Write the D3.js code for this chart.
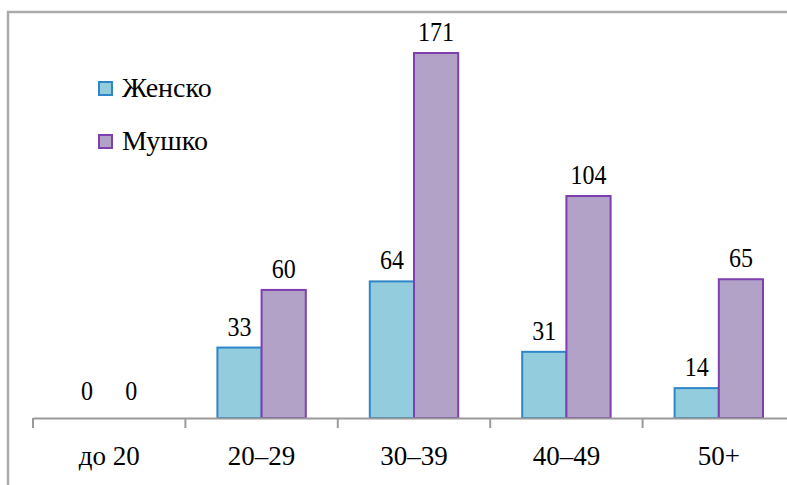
<!DOCTYPE html>
<html>
<head>
<meta charset="utf-8">
<script src="https://cdn.jsdelivr.net/npm/d3@7"></script>
<style>
  html, body { margin: 0; padding: 0; background: #fff; overflow: hidden; }
  svg { display: block; }
</style>
</head>
<body>
<svg id="chart" width="787" height="485"></svg>
<script>
// Age groups and counts per gender
const categories = ["до 20", "20–29", "30–39", "40–49", "50+"];
const seriesNames = ["Женско", "Мушко"];
const female = [0, 33, 64, 31, 14];
const male = [0, 60, 171, 104, 65];

const fills = ["#93CDDD", "#B2A2C7"];
const strokes = ["#2E86C8", "#7E3FB0"];
const FONT = "Liberation Serif";

const svg = d3.select("#chart");

// Outer frame (extends past the right and bottom edges)
svg.append("rect")
  .attr("x", 8).attr("y", 12)
  .attr("width", 820).attr("height", 520)
  .attr("fill", "#fff")
  .attr("stroke", "#ababab").attr("stroke-width", 2.5);

const baseY = 418;
const x0 = d3.scaleBand().domain(categories).range([33, 795]).paddingInner(0).paddingOuter(0);
const x1 = d3.scaleBand().domain(seriesNames).range([32, x0.bandwidth() - 32]).padding(0);
const y = d3.scaleLinear().domain([0, 171]).range([baseY, 53]);

const data = categories.map((c, i) => ({ cat: c, vals: [female[i], male[i]] }));

const groups = svg.append("g").selectAll("g")
  .data(data).join("g")
  .attr("transform", d => `translate(${x0(d.cat)},0)`);

groups.selectAll("rect")
  .data(d => d.vals.map((v, k) => ({ v, k })))
  .join("rect")
  .attr("x", d => x1(seriesNames[d.k]))
  .attr("y", d => y(d.v))
  .attr("width", x1.bandwidth())
  .attr("height", d => baseY - y(d.v))
  .attr("fill", d => fills[d.k])
  .attr("stroke", d => strokes[d.k])
  .attr("stroke-width", d => d.v > 0 ? 2 : 0);

// Value labels above bars
groups.selectAll("text.val")
  .data(d => d.vals.map((v, k) => ({ v, k })))
  .join("text")
  .attr("class", "val")
  .style("font-family", FONT)
  .style("font-size", "24px")
  .attr("text-anchor", "middle")
  .attr("transform", d => `translate(${x1(seriesNames[d.k]) + x1.bandwidth() / 2},${y(d.v) - (d.v > 0 ? 12 : 18)}) scale(1,1.15)`)
  .text(d => d.v);

// Category axis line
const axis = d3.axisBottom(x0).tickSize(0).tickFormat("");
const axisG = svg.append("g").attr("transform", `translate(0,${baseY})`).call(axis);
axisG.select(".domain").attr("stroke", "#9a9a9a").attr("stroke-width", 2);

// Tick marks on category boundaries
const bounds = categories.map(c => x0(c));
svg.append("g").selectAll("line")
  .data(bounds).join("line")
  .attr("x1", d => d).attr("x2", d => d)
  .attr("y1", baseY).attr("y2", baseY + 10)
  .attr("stroke", "#9a9a9a").attr("stroke-width", 2);

svg.append("g").selectAll("text")
  .data(categories).join("text")
  .style("font-family", FONT)
  .style("font-size", "27px")
  .attr("text-anchor", "middle")
  .attr("x", d => x0(d) + x0.bandwidth() / 2)
  .attr("y", 465)
  .text(d => d);

// Legend
const legend = svg.append("g").selectAll("g")
  .data(seriesNames).join("g")
  .attr("transform", (d, i) => `translate(99,${82 + i * 53})`);
legend.append("rect")
  .attr("width", 13).attr("height", 13)
  .attr("fill", (d, i) => fills[i])
  .attr("stroke", (d, i) => strokes[i]).attr("stroke-width", 2);
legend.append("text")
  .style("font-family", FONT)
  .style("font-size", "28px")
  .attr("x", 23).attr("y", 15)
  .text(d => d);
</script>
</body>
</html>
